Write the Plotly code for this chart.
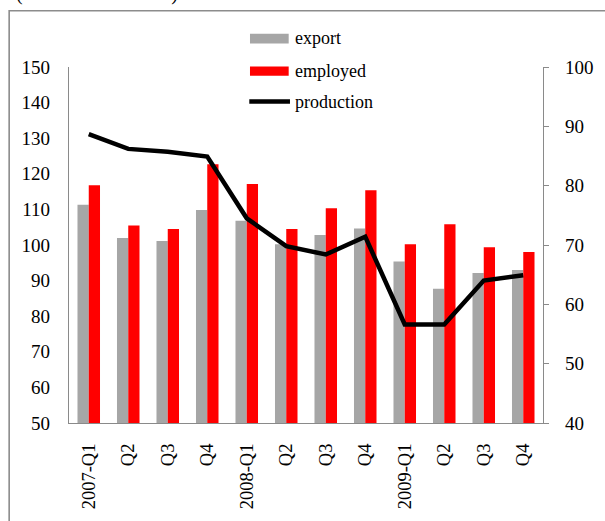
import plotly.graph_objects as go

# Quarterly indices (2006 = 100)
quarters = ["2007-Q1", "Q2", "Q3", "Q4", "2008-Q1", "Q2", "Q3", "Q4",
            "2009-Q1", "Q2", "Q3", "Q4"]
export = [111.3, 102.0, 101.1, 109.8, 106.8, 100.2, 102.8, 104.6, 95.4, 87.7, 92.1, 93.0]
employed = [116.8, 105.5, 104.5, 122.7, 117.1, 104.5, 110.3, 115.4, 100.2, 105.8, 99.4, 98.0]
production = [88.7, 86.2, 85.7, 84.9, 74.5, 69.8, 68.4, 71.4, 56.6, 56.6, 64.0, 64.9]

W, H = 605, 521
M_L, M_R, M_T, M_B = 69.3, 58, 67, 96
PW, PH = W - M_L - M_R, H - M_T - M_B

FONT = "Liberation Serif, Times New Roman, serif"
AXIS_GRAY = "#8a8a8a"
GRAY = "#a6a6a6"
RED = "#ff0000"


def px_x(p):
    return (p - M_L) / PW


def px_y(p):
    return 1 - (p - M_T) / PH


xs = list(range(len(quarters)))

fig = go.Figure()
fig.add_trace(go.Bar(x=xs, y=export, name="export", marker=dict(color=GRAY, line_width=0),
                     showlegend=False))
fig.add_trace(go.Bar(x=xs, y=employed, name="employed", marker=dict(color=RED, line_width=0),
                     showlegend=False))
fig.add_trace(go.Scatter(x=xs, y=production, name="production", mode="lines",
                         line=dict(color="black", width=4.5), yaxis="y2",
                         showlegend=False))

# Hand-placed legend: swatches + labels
legend_rows = [("export", 38.3), ("employed", 71.0), ("production", 101.7)]
shapes = [
    # outer frame
    dict(type="rect", xref="paper", yref="paper",
         x0=px_x(9), x1=px_x(640), y0=px_y(10.5), y1=px_y(560),
         line=dict(color="#8c8c8c", width=1.6), fillcolor="rgba(0,0,0,0)", layer="below"),
    dict(type="rect", xref="paper", yref="paper",
         x0=px_x(251.7), x1=px_x(290.7), y0=px_y(33.5), y1=px_y(43.3),
         line_width=0, fillcolor=GRAY),
    dict(type="rect", xref="paper", yref="paper",
         x0=px_x(251.7), x1=px_x(290.7), y0=px_y(66.5), y1=px_y(75.7),
         line_width=0, fillcolor=RED),
    dict(type="line", xref="paper", yref="paper",
         x0=px_x(251), x1=px_x(292), y0=px_y(101.7), y1=px_y(101.7),
         line=dict(color="black", width=4.5)),
]
annotations = [
    dict(text=name, xref="paper", yref="paper", x=px_x(295), y=px_y(yc),
         xanchor="left", yanchor="middle", showarrow=False,
         font=dict(family=FONT, size=18, color="black"))
    for name, yc in legend_rows
]
annotations.append(
    dict(text="(indices: 2006=100)", xref="paper", yref="paper", x=px_x(14), y=px_y(-7),
         xanchor="left", yanchor="middle", showarrow=False,
         font=dict(family=FONT, size=20, color="black"))
)

fig.update_layout(
    width=W, height=H,
    margin=dict(l=M_L, r=M_R, t=M_T, b=M_B, pad=0),
    paper_bgcolor="white", plot_bgcolor="white",
    barmode="group", bargap=0.43, bargroupgap=0,
    font=dict(family=FONT, size=18.5, color="black"),
    xaxis=dict(range=[-0.5, len(quarters) - 0.5], tickmode="array", tickvals=xs,
               ticktext=quarters, tickangle=-90, showgrid=False, zeroline=False,
               showline=True, linecolor=AXIS_GRAY, linewidth=1.3, ticks="",
               ticklabelstandoff=12),
    yaxis=dict(range=[50, 150], dtick=10, showgrid=False, zeroline=False,
               showline=True, linecolor=AXIS_GRAY, linewidth=1.3, ticks="",
               ticklabelstandoff=14, tickfont=dict(size=19)),
    yaxis2=dict(range=[40, 100], dtick=10, overlaying="y", side="right",
                showgrid=False, zeroline=False, showline=True, linecolor=AXIS_GRAY,
                linewidth=1.3, ticks="outside", ticklen=5, tickcolor=AXIS_GRAY,
                tickwidth=1.3, ticklabelstandoff=12, tickfont=dict(size=19)),
    shapes=shapes,
    annotations=annotations,
)

fig.write_html("out.html")
